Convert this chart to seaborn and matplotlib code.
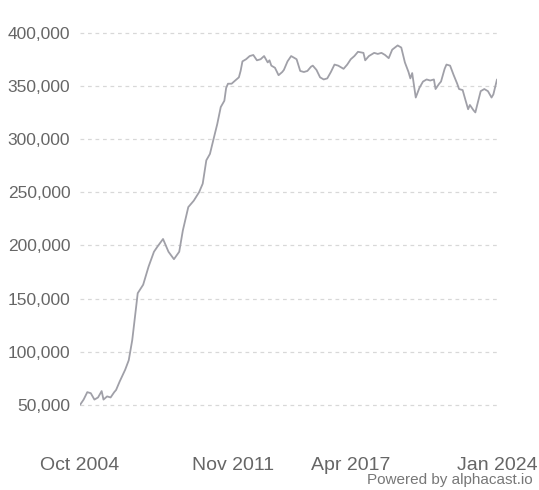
import numpy as np
import pandas as pd
import matplotlib
matplotlib.use("Agg")
import matplotlib.pyplot as plt
from matplotlib.ticker import FuncFormatter
import seaborn as sns

# months counted from Oct 2004
month_idx = [0, 2, 4, 6, 8, 10, 12, 13, 15, 17, 19, 20, 22, 25, 27, 29, 31, 32, 35, 38,
             41, 43, 46, 49, 52, 55, 57, 60, 63, 66, 68, 70, 72, 74, 76, 78, 80, 81, 82, 84,
             86, 88, 89, 90, 92, 94, 96, 98, 100, 102, 104, 105, 106, 108, 110, 112, 113, 115, 117, 119,
             120, 122, 124, 126, 128, 129, 131, 133, 135, 137, 139, 141, 143, 146, 148, 150, 152, 154, 157, 158,
             160, 163, 165, 167, 169, 171, 173, 176, 178, 180, 182, 183, 184, 186, 188, 190, 192, 194, 196, 197,
             199, 200, 202, 203, 205, 207, 209, 210, 212, 213, 215, 216, 218, 219, 220, 222, 224, 226, 228, 229,
             231]
values = [50000, 55000, 62000, 61000, 55000, 57000, 63000, 55000, 58000, 57000, 62000, 64000, 72000, 83000, 92000, 111000, 140000, 155000, 163000, 180000,
          194000, 199000, 206000, 194000, 187000, 194000, 214000, 236000, 242000, 250000, 258000, 280000, 286000, 300000, 314000, 330000, 336000, 348000, 352000, 352000,
          355000, 358000, 364000, 373000, 375000, 378000, 379000, 374000, 375000, 378000, 372000, 374000, 369000, 367000, 360000, 363000, 365000, 373000, 378000, 376000,
          375000, 364000, 363000, 364000, 368000, 369000, 365000, 358000, 356000, 357000, 363000, 370000, 369000, 366000, 370000, 375000, 378000, 382000, 381000, 374000,
          378000, 381000, 380000, 381000, 379000, 376000, 384000, 388000, 386000, 372000, 363000, 357000, 362000, 339000, 348000, 354000, 356000, 355000, 356000, 347000,
          352000, 354000, 366000, 370000, 369000, 360000, 352000, 347000, 346000, 340000, 328000, 332000, 327000, 325000, 332000, 345000, 347000, 345000, 339000, 342000,
          356000]

tick_dates = ["2004-10-01", "2011-11-01", "2017-04-01", "2024-01-01"]
tick_labels = ["Oct 2004", "Nov 2011", "Apr 2017", "Jan 2024"]
y_ticks = [50000, 100000, 150000, 200000, 250000, 300000, 350000, 400000]

dates = [pd.Timestamp("2004-10-01") + pd.DateOffset(months=m) for m in month_idx]
df = pd.DataFrame({"date": dates, "value": values})

sns.set_style("white")
plt.rcParams["font.family"] = ["Liberation Sans", "DejaVu Sans"]

fig = plt.figure(figsize=(5.39, 4.90), dpi=100)
ax = fig.add_axes([80 / 539, 50 / 490, 417 / 539, 410 / 490])

sns.lineplot(data=df, x="date", y="value", ax=ax, color="#a0a0a8", linewidth=1.3)

ax.set_xlim(pd.Timestamp("2004-10-01"), pd.Timestamp("2024-01-01"))
ax.set_ylim(17000, 402500)

ax.set_yticks(y_ticks)
ax.yaxis.set_major_formatter(FuncFormatter(lambda v, p: f"{int(v):,}"))
ax.set_xticks([pd.Timestamp(d) for d in tick_dates])
ax.set_xticklabels(tick_labels)

ax.grid(axis="y", color="#d8d8d8", linestyle=(0, (3, 3)), linewidth=0.9)
ax.grid(axis="x", visible=False)
for s in ax.spines.values():
    s.set_visible(False)

ax.tick_params(axis="y", length=0, pad=7, labelsize=12.5, labelcolor="#666666")
ax.tick_params(axis="x", length=5, width=0.8, color="#cccccc", pad=7,
               labelsize=14, labelcolor="#666666", direction="out")
ax.set_xlabel("")
ax.set_ylabel("")

fig.text(533 / 539, 10 / 490, "Powered by alphacast.io", ha="right", va="center",
         fontsize=11, color="#777777")

fig.savefig("out.png", dpi=100)
